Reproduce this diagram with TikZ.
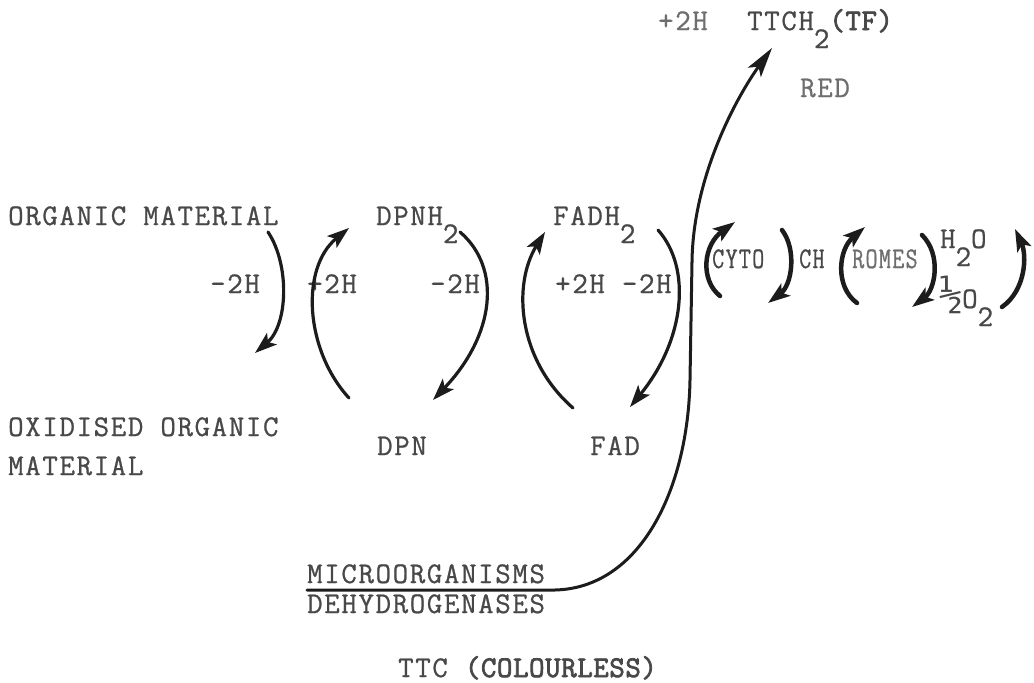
\documentclass[tikz,border=0pt]{standalone}
\usepackage{fontspec}
\usetikzlibrary{arrows.meta}
\newfontfamily\tw{Latin Modern Mono}[LetterSpace=5.5,FakeBold=0.8]
\newfontfamily\twb{Latin Modern Mono}[LetterSpace=2,FakeBold=2.5]
\newfontfamily\halffont{DejaVu Sans Mono}
\definecolor{ink}{HTML}{1C1C1C}
\definecolor{type}{HTML}{484848}
\definecolor{faint}{HTML}{6E6E6E}
% typewritten subscript two, dropped below the line
\newcommand{\lowtwo}{\raisebox{-18pt}{2}}
% typewritten one-half character
\newcommand{\typehalf}{\makebox[23pt][l]{\halffont\fontsize{40}{44}\selectfont ½}}
% narrower typeface used for the cytochrome labels
\newcommand{\narrow}[1]{\scalebox{0.78}[1]{#1}}
\tikzset{
  lbl/.style={anchor=base west, inner sep=0pt, text=type, font=\tw\fontsize{30}{36}\selectfont},
  pale/.style={lbl, text=faint},
  arc/.style={draw=ink, line width=3.2pt, line cap=round,
    -{Stealth[length=22pt,width=15pt,inset=5pt]}},
  heavyarc/.style={arc, line width=4.5pt},
  plain/.style={draw=ink, line width=3pt, line cap=round},
  bigarc/.style={plain, -{Stealth[length=30pt,width=16pt,inset=7pt]}}
}
\begin{document}
\begin{tikzpicture}[x=1pt,y=-1pt]
\useasboundingbox (0,0) rectangle (1034,683);
\fill[white] (0,0) rectangle (1034,683);

% compounds and labels
\node[pale] (plus2htop) at (658,30) {+2H};
\node[lbl]  (ttch) at (747,30) {TTCH\lowtwo{\twb(TF)}};
\node[pale] (red) at (800,97) {RED};
\node[lbl]  (orgmat) at (8,225) {ORGANIC MATERIAL};
\node[lbl]  (dpnh) at (376,225) {DPNH\lowtwo};
\node[lbl]  (fadh) at (553,225) {FADH\lowtwo};
\node[lbl]  (mA) at (210,293) {-2H};
\node[lbl]  (pA) at (307,293) {+2H};
\node[lbl]  (mB) at (430,293) {-2H};
\node[lbl]  (pmC) at (555,293) {+2H -2H};
\node[lbl]  (cyto) at (712,268) {\narrow{CYTO}};
\node[lbl]  (ch) at (799,268) {\narrow{CH}};
\node[pale] (romes) at (852,268) {\narrow{ROMES}};
\node[lbl]  (water) at (940,248) {H\lowtwo O};
\node[lbl]  (oxy) at (939,308) {\typehalf O\lowtwo};
\node[lbl]  (oxorg) at (8,436) {OXIDISED ORGANIC};
\node[lbl]  (oxmat) at (8,475) {MATERIAL};
\node[lbl]  (dpn) at (377,455) {DPN};
\node[lbl]  (fad) at (590,455) {FAD};
\node[lbl]  (micro) at (307,583) {MICROORGANISMS};
\node[lbl]  (dehyd) at (307,613) {DEHYDROGENASES};
\node[lbl]  (ttc) at (398,677) {TTC {\twb(COLOURLESS)}};

% end points of the redox arrows
\coordinate (a1s) at (268,232);  \coordinate (a1e) at (255,353);
\coordinate (a2s) at (349,398);  \coordinate (a2e) at (349,228);
\coordinate (a3s) at (460,232);  \coordinate (a3e) at (433,400);
\coordinate (a4s) at (573,408);  \coordinate (a4e) at (545,232);
\coordinate (a5s) at (658,230);  \coordinate (a5e) at (630,407);
\coordinate (a6s) at (720,296);  \coordinate (a6e) at (735,222);
\coordinate (a7s) at (782,230);  \coordinate (a7e) at (768,303);
\coordinate (a8s) at (857,303);  \coordinate (a8e) at (865,227);
\coordinate (a9s) at (922,235);  \coordinate (a9e) at (912,307);
\coordinate (a10s) at (1002,307); \coordinate (a10e) at (1015,229);

\draw[arc] (a1s) .. controls (290,265) and (288,325) .. (a1e);
\draw[arc] (a2s) .. controls (305,350) and (300,268) .. (a2e);
\draw[arc] (a3s) .. controls (502,268) and (495,335) .. (a3e);
\draw[arc] (a4s) .. controls (518,360) and (512,285) .. (a4e);
\draw[arc] (a5s) .. controls (692,268) and (685,340) .. (a5e);
\draw[heavyarc] (a6s) .. controls (700,280) and (703,245) .. (a6e);
\draw[heavyarc] (a7s) .. controls (797,250) and (792,285) .. (a7e);
\draw[heavyarc] (a8s) .. controls (835,287) and (838,250) .. (a8e);
\draw[heavyarc] (a9s) .. controls (942,255) and (935,290) .. (a9e);
\draw[heavyarc] (a10s) .. controls (1026,290) and (1027,255) .. (a10e);

% dehydrogenase line rising to the reduced formazan
\coordinate (u0) at (micro.base west |- 0,590);
\coordinate (u1) at (555,590);
\coordinate (v1) at (690,380);
\coordinate (v2) at (692,262);
\coordinate (tip) at (772,48);
\draw[plain] (u0) -- (u1) .. controls (640,588) and (688,490) .. (v1) -- (v2);
\draw[bigarc] (v2) .. controls (693,175) and (738,95) .. (tip);
\end{tikzpicture}
\end{document}
